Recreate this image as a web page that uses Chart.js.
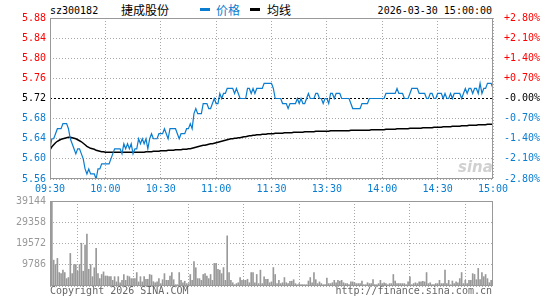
<!DOCTYPE html>
<html>
<head>
<meta charset="utf-8">
<title>sz300182 捷成股份</title>
<script src="https://cdn.jsdelivr.net/npm/chart.js@4.4.1/dist/chart.umd.min.js"></script>
<style>
  html, body { margin: 0; padding: 0; background: #fff; }
  #wrap { position: relative; width: 545px; height: 300px; overflow: hidden; font-family: "DejaVu Sans Mono", monospace; font-size: 10px; }
  #wrap canvas { position: absolute; left: 0; }
  .txt { position: absolute; line-height: 10px; white-space: nowrap; }
  .cjk { position: absolute; line-height: 12px; font-family: "Noto Sans CJK SC", sans-serif; font-size: 12px; white-space: nowrap; }
  .mark { position: absolute; height: 3px; width: 10px; }
</style>
</head>
<body>
<div id="wrap">
  <div class="txt" style="left:50px;top:6px;color:#000">sz300182</div>
  <div class="cjk" style="left:121px;top:4px;color:#000">捷成股份</div>
  <div class="mark" style="left:200px;top:8px;background:#0a7dd0"></div>
  <div class="cjk" style="left:216px;top:4px;color:#0a7dd0">价格</div>
  <div class="mark" style="left:250px;top:8px;background:#000"></div>
  <div class="cjk" style="left:267px;top:4px;color:#000">均线</div>
  <div class="txt" style="right:53px;top:6px;color:#000">2026-03-30 15:00:00</div>

  <canvas id="priceChart" width="545" height="197" style="top:0"></canvas>
  <canvas id="volChart" width="545" height="110" style="top:190px"></canvas>

  <div class="txt" style="left:458px;top:158px;font:italic bold 15px 'DejaVu Sans';color:rgba(150,150,150,0.45)">sina</div>
  <div class="txt" style="left:50px;top:286px;color:#666">Copyright 2026 SINA.COM</div>
  <div class="txt" style="right:53px;top:286px;color:#666">http://finance.sina.com.cn</div>
</div>

<script>
// 1. DỮ LIỆU
const timeLabels = ["09:30", "10:00", "10:30", "11:00", "11:30", "13:30", "14:00", "14:30", "15:00"];
const preClose = 5.72;
const priceTicks = [5.56, 5.60, 5.64, 5.68, 5.72, 5.76, 5.80, 5.84, 5.88];
const pctLabels = ["-2.80%", "-2.10%", "-1.40%", "-0.70%", "-0.00%", "+0.70%", "+1.40%", "+2.10%", "+2.80%"];
const volTicks = [0, 9786, 19572, 29358, 39144];

// giá từng phút 09:30 -> 11:30, 13:01 -> 15:00
const prices = [
    5.62,5.64,5.64,5.65,5.66,5.66,5.66,5.67,5.67,5.67,
    5.66,5.64,5.63,5.62,5.61,5.62,5.62,5.61,5.60,5.58,
    5.57,5.58,5.57,5.57,5.57,5.56,5.58,5.58,5.59,5.59,
    5.59,5.59,5.59,5.60,5.61,5.62,5.62,5.62,5.62,5.61,
    5.63,5.62,5.63,5.62,5.63,5.61,5.62,5.62,5.64,5.63,
    5.64,5.63,5.64,5.62,5.64,5.65,5.64,5.64,5.64,5.65,
    5.65,5.65,5.66,5.65,5.64,5.66,5.66,5.66,5.66,5.65,
    5.64,5.65,5.65,5.65,5.66,5.66,5.67,5.66,5.69,5.70,
    5.69,5.69,5.69,5.71,5.71,5.71,5.70,5.70,5.71,5.72,
    5.71,5.71,5.73,5.72,5.73,5.73,5.74,5.74,5.74,5.74,
    5.73,5.74,5.73,5.72,5.72,5.72,5.72,5.74,5.74,5.73,
    5.74,5.73,5.74,5.74,5.74,5.74,5.75,5.75,5.75,5.75,
    5.75,5.74,5.72,5.72,5.72,5.72,5.71,5.71,5.71,5.70,
    5.71,5.71,5.71,5.71,5.72,5.71,5.72,5.71,5.71,5.72,
    5.73,5.72,5.72,5.72,5.73,5.73,5.72,5.72,5.71,5.72,
    5.72,5.71,5.73,5.73,5.72,5.73,5.73,5.73,5.72,5.72,
    5.72,5.72,5.72,5.71,5.70,5.70,5.70,5.70,5.70,5.71,
    5.71,5.71,5.71,5.72,5.72,5.72,5.72,5.72,5.72,5.72,
    5.72,5.72,5.73,5.73,5.73,5.73,5.73,5.73,5.74,5.73,
    5.73,5.73,5.72,5.72,5.72,5.73,5.74,5.74,5.74,5.74,
    5.73,5.73,5.73,5.73,5.72,5.72,5.73,5.73,5.72,5.72,
    5.73,5.73,5.73,5.72,5.73,5.72,5.72,5.73,5.72,5.73,
    5.73,5.73,5.73,5.72,5.73,5.74,5.73,5.74,5.74,5.73,
    5.74,5.74,5.73,5.75,5.73,5.74,5.74,5.75,5.75,5.75,
    5.74
];

// đường giá trung bình
const avgPrices = [
    5.618,5.624,5.628,5.632,5.635,5.637,5.639,5.640,5.641,5.642,
    5.643,5.643,5.642,5.641,5.640,5.638,5.636,5.634,5.631,5.628,
    5.625,5.623,5.621,5.620,5.619,5.617,5.616,5.615,5.614,5.614,
    5.613,5.613,5.613,5.613,5.613,5.613,5.613,5.613,5.613,5.613,
    5.613,5.613,5.613,5.613,5.613,5.613,5.613,5.613,5.613,5.613,
    5.613,5.613,5.614,5.614,5.614,5.614,5.615,5.615,5.615,5.615,
    5.616,5.616,5.616,5.616,5.617,5.617,5.617,5.617,5.618,5.618,
    5.618,5.618,5.619,5.619,5.619,5.620,5.620,5.621,5.622,5.623,
    5.624,5.625,5.626,5.627,5.627,5.628,5.629,5.630,5.630,5.631,
    5.632,5.633,5.634,5.635,5.636,5.637,5.638,5.639,5.640,5.640,
    5.641,5.641,5.642,5.642,5.643,5.644,5.644,5.645,5.646,5.646,
    5.647,5.647,5.648,5.648,5.648,5.649,5.649,5.649,5.650,5.650,
    5.650,5.650,5.651,5.651,5.651,5.651,5.651,5.652,5.652,5.652,
    5.652,5.652,5.653,5.653,5.653,5.653,5.653,5.653,5.654,5.654,
    5.654,5.654,5.654,5.654,5.655,5.655,5.655,5.655,5.655,5.655,
    5.655,5.655,5.656,5.656,5.656,5.656,5.656,5.656,5.656,5.656,
    5.656,5.656,5.656,5.657,5.657,5.657,5.657,5.657,5.657,5.657,
    5.657,5.657,5.657,5.657,5.658,5.658,5.658,5.658,5.658,5.658,
    5.658,5.658,5.659,5.659,5.659,5.659,5.659,5.659,5.660,5.660,
    5.660,5.660,5.660,5.660,5.660,5.661,5.661,5.661,5.661,5.661,
    5.661,5.661,5.662,5.662,5.662,5.662,5.662,5.662,5.663,5.663,
    5.663,5.663,5.663,5.664,5.664,5.664,5.664,5.664,5.665,5.665,
    5.665,5.665,5.665,5.666,5.666,5.666,5.666,5.667,5.667,5.667,
    5.667,5.667,5.668,5.668,5.668,5.668,5.668,5.669,5.669,5.669,
    5.669
];

// khối lượng từng phút
const volumes = [
    8600,39144,11900,9900,12700,6200,5700,7300,6200,3400,
    3900,15000,5700,9900,9900,6800,9900,19700,6800,18900,
    23900,7700,9900,4300,8400,17400,5700,3400,5300,6500,
    4600,4600,4300,4300,2600,4300,1900,4300,1500,2600,
    5300,2600,4600,4300,3400,3400,3400,6200,1900,4300,
    1900,4300,3100,3100,5300,5000,2000,1500,1900,3400,
    1100,2900,5700,2600,2600,4600,6200,2900,600,600,
    6200,2600,1500,2200,1100,1100,5300,2600,11200,8400,
    3400,3400,2600,5300,5700,4600,3400,5300,2600,10400,
    10400,7700,7300,5700,8500,2600,23100,6200,2600,1500,
    600,1100,1500,3900,2600,2600,2600,3100,1500,6200,
    6200,1500,5300,1100,7300,1100,4200,3100,3100,1500,
    1900,8500,5300,1100,2600,1100,1500,3900,1500,1100,
    2200,2200,2900,1100,600,1100,600,600,600,600,
    2300,3900,1500,6200,2900,1100,1900,1100,600,600,
    3700,1100,1100,1500,2600,1500,2600,2200,2600,1500,
    1100,1100,600,1900,1900,1500,1100,1100,1100,2300,
    600,600,1500,1100,1100,2900,600,600,1100,2600,
    1100,1500,1100,600,1100,1100,5300,2300,1100,1100,
    1100,1100,1100,600,1900,4200,600,1100,1500,1100,
    1900,1900,2200,1900,6200,1100,1500,600,600,1100,
    1100,2600,1100,1100,7300,1100,2600,600,2300,1100,
    1900,1500,3400,6200,1100,2600,1100,2600,2600,5700,
    5300,2900,8100,2900,6200,4300,5300,3400,1500,2600,
    1900
];

// 2. MÀU & FONT
const BLUE = "#0a7dd0";
const RED = "#ff0000";
const GRID = "#a8a8a8";
const FRAME = "#999999";

Chart.defaults.font.family = "'DejaVu Sans Mono', monospace";
Chart.defaults.font.size = 10;
Chart.defaults.animation = false;

const isPreClose = v => Math.abs(v - preClose) < 1e-6;
const priceColor = v => isPreClose(v) ? "#000" : (v > preClose ? RED : BLUE);
const tickIdx = (t) => t.map(v => ({ value: v }));
const lastIdx = prices.length - 1;

// khung bao quanh vùng vẽ
const framePlugin = {
    id: "frame",
    afterDraw(chart) {
        const a = chart.chartArea;
        const c = chart.ctx;
        c.save();
        c.strokeStyle = FRAME;
        c.lineWidth = 1;
        c.strokeRect(a.left + 0.5, a.top + 0.5, a.right - a.left - 1, a.bottom - a.top - 1);
        c.restore();
    }
};

const xGrid = {
    color: GRID,
    drawTicks: false
};

// 3. BIỂU ĐỒ GIÁ
new Chart(document.getElementById("priceChart"), {
    type: "line",
    data: {
        datasets: [
            { label: "价格", data: prices.map((p, i) => ({ x: i, y: p })), borderColor: BLUE, borderWidth: 1.2, pointRadius: 0, tension: 0, order: 0 },
            { label: "均线", data: avgPrices.map((p, i) => ({ x: i, y: p })), borderColor: "#000", borderWidth: 1.5, pointRadius: 0, tension: 0, order: 1 }
        ]
    },
    options: {
        responsive: false,
        devicePixelRatio: 1,
        layout: { padding: { top: 18, left: 0, right: 0, bottom: 0 } },
        plugins: { legend: { display: false }, tooltip: { enabled: false } },
        scales: {
            x: {
                type: "linear", min: 0, max: lastIdx,
                afterBuildTicks: s => { s.ticks = timeLabels.map((t, i) => ({ value: i * lastIdx / (timeLabels.length - 1) })); },
                afterFit: s => { s.height = 18; },
                ticks: { color: BLUE, maxRotation: 0, autoSkip: false, padding: 4, callback: (v, i) => timeLabels[i] },
                grid: xGrid,
                border: { display: false, dash: [1, 2] }
            },
            y: {
                position: "left", min: priceTicks[0], max: priceTicks[priceTicks.length - 1],
                afterBuildTicks: s => { s.ticks = tickIdx(priceTicks); },
                afterFit: s => { s.width = 50; },
                ticks: { padding: 4, color: c => priceColor(c.tick.value), callback: v => v.toFixed(2) },
                grid: { drawTicks: false, color: c => (c.tick && isPreClose(c.tick.value)) ? "#000" : GRID },
                border: { display: false, dash: c => (c.tick && isPreClose(c.tick.value)) ? [2, 2] : [1, 2] }
            },
            yPct: {
                position: "right", min: priceTicks[0], max: priceTicks[priceTicks.length - 1],
                afterBuildTicks: s => { s.ticks = tickIdx(priceTicks); },
                afterFit: s => { s.width = 52; },
                ticks: { padding: 3, color: c => priceColor(c.tick.value), callback: (v, i) => pctLabels[i] },
                grid: { display: false },
                border: { display: false }
            }
        }
    },
    plugins: [framePlugin]
});

// 4. BIỂU ĐỒ KHỐI LƯỢNG
new Chart(document.getElementById("volChart"), {
    type: "bar",
    data: {
        datasets: [
            { label: "成交量", data: volumes.map((v, i) => ({ x: i, y: v })), backgroundColor: "#999999", barThickness: 1, grouped: false }
        ]
    },
    options: {
        responsive: false,
        devicePixelRatio: 1,
        layout: { padding: { top: 11, left: 0, right: 52, bottom: 14 } },
        plugins: { legend: { display: false }, tooltip: { enabled: false } },
        scales: {
            x: {
                type: "linear", min: 0, max: lastIdx, offset: false,
                afterBuildTicks: s => { s.ticks = timeLabels.map((t, i) => ({ value: i * lastIdx / (timeLabels.length - 1) })); },
                afterFit: s => { s.height = 0; },
                ticks: { display: false },
                grid: xGrid,
                border: { display: false, dash: [1, 2] }
            },
            y: {
                min: 0, max: volTicks[volTicks.length - 1],
                afterBuildTicks: s => { s.ticks = tickIdx(volTicks); },
                afterFit: s => { s.width = 50; },
                ticks: { padding: 4, color: "#999", callback: v => v === 0 ? "" : String(v) },
                grid: { drawTicks: false, color: GRID },
                border: { display: false, dash: [1, 2] }
            }
        }
    },
    plugins: [framePlugin]
});
</script>
</body>
</html>
